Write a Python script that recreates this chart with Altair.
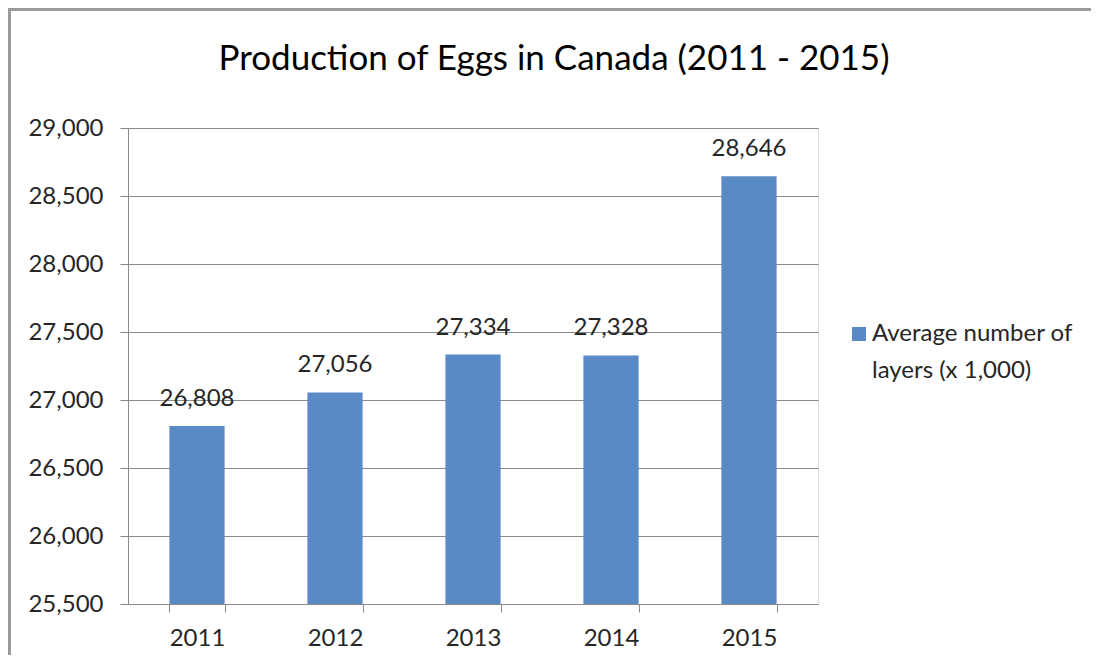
import altair as alt
import pandas as pd

# ---- data ----
years = ["2011", "2012", "2013", "2014", "2015"]
values = [26808, 27056, 27334, 27328, 28646]
series_name = "Average number of layers (x 1,000)"
y_ticks = [25500, 26000, 26500, 27000, 27500, 28000, 28500, 29000]
title_text = "Production of Eggs in Canada (2011 - 2015)"

df = pd.DataFrame({"year": years, "value": values, "series": [series_name] * len(years)})

FONT = "Lato"
TXT = "#262626"
GRID = "#8a8a8a"
BAR = "#5A8AC6"

W, H = 690, 476

base = alt.Chart(df)

x_enc = alt.X(
    "year:N",
    title=None,
    sort=years,
    scale=alt.Scale(paddingInner=0.6, paddingOuter=0.3),
    axis=alt.Axis(
        labelAngle=0,
        tickBand="extent",
        tickSize=8,
        tickColor=GRID,
        domainColor=GRID,
        labelFont=FONT,
        labelFontSize=24,
        labelColor=TXT,
        labelPadding=14,
        grid=False,
    ),
)
y_enc = alt.Y(
    "value:Q",
    title=None,
    scale=alt.Scale(domain=[y_ticks[0], y_ticks[-1]], zero=False, nice=False),
    axis=alt.Axis(
        values=y_ticks,
        format=",.0f",
        tickSize=8,
        tickColor=GRID,
        domainColor=GRID,
        gridColor=GRID,
        grid=True,
        labelFont=FONT,
        labelFontSize=24,
        labelColor=TXT,
        labelPadding=17,
    ),
)

bars = base.mark_bar(clip=True).encode(
    x=x_enc,
    y=y_enc,
    color=alt.Color(
        "series:N",
        title=None,
        scale=alt.Scale(range=[BAR]),
        legend=alt.Legend(
            orient="none",
            legendX=719,
            legendY=194,
            symbolType="square",
            symbolSize=196,
            symbolStrokeWidth=0,
            labelFont=FONT,
            labelFontSize=24,
            labelColor=TXT,
            labelLimit=0,
            labelOffset=1,
            labelBaseline="middle",
            labelExpr="[slice(datum.label, 0, 17), slice(datum.label, 18)]",
            padding=0,
        ),
    ),
)

labels = base.mark_text(
    baseline="alphabetic", dy=-20, font=FONT, fontSize=24, color=TXT
).encode(
    x=x_enc,
    y=y_enc,
    text=alt.Text("value:Q", format=","),
)

frame_top = base.mark_rule(color="#9a9a9a", strokeWidth=3).encode(
    x=alt.value(-121), x2=alt.value(W + 300), y=alt.value(-119)
)
frame_left = base.mark_rule(color="#9a9a9a", strokeWidth=3).encode(
    x=alt.value(-119), y=alt.value(-121), y2=alt.value(H + 200)
)

chart = (
    alt.layer(bars, labels, frame_top, frame_left)
    .properties(
        width=W,
        height=H,
        padding={"left": 120, "top": 120, "right": 273, "bottom": 51},
        autosize=alt.AutoSizeParams(type="none"),
        title=alt.TitleParams(
            title_text,
            anchor="start",
            align="center",
            frame="group",
            dx=426,
            baseline="alphabetic",
            offset=-99,
            font=FONT,
            fontSize=35,
            fontWeight="normal",
            color="#000000",
        ),
    )
    .configure_view(stroke=None)
    .configure(background="white", style={"guide-label": {"lineHeight": 37}})
)

chart.save("out.html", embed_options={"renderer": "svg", "actions": False})
